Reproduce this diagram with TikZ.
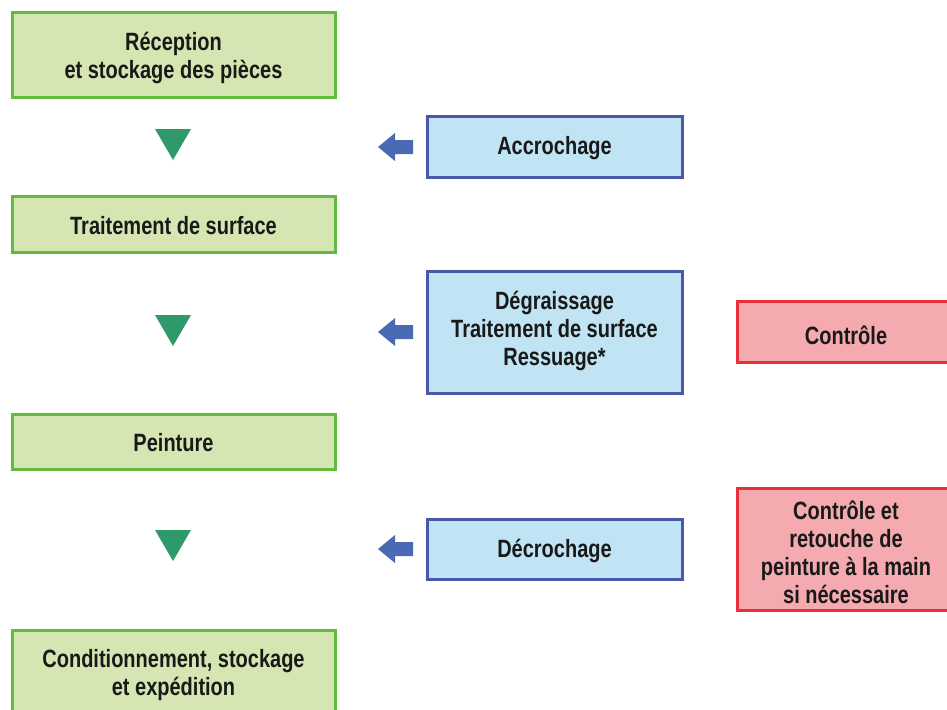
\documentclass[tikz,border=0pt]{standalone}
\usepackage{fontspec}
\setmainfont{Liberation Sans}[FakeStretch=0.8]
\definecolor{gfill}{HTML}{D5E6B3}
\definecolor{gdraw}{HTML}{62BB3E}
\definecolor{bfill}{HTML}{C0E4F4}
\definecolor{bdraw}{HTML}{4A58A8}
\definecolor{rfill}{HTML}{F5AAAF}
\definecolor{rdraw}{HTML}{E8303A}
\definecolor{tri}{HTML}{2E9A6A}
\definecolor{barrow}{HTML}{4A6AB5}
\begin{document}
\begin{tikzpicture}[x=1pt,y=-1pt,
  box/.style={line width=3pt},
  gbox/.style={box, draw=gdraw, fill=gfill},
  bbox/.style={box, draw=bdraw, fill=bfill},
  rbox/.style={box, draw=rdraw, fill=rfill},
  lbl/.style={align=center, inner sep=0pt, text=black!90, font=\bfseries\fontsize{25}{28}\selectfont}]
\useasboundingbox (0,0) rectangle (947,709);
% green boxes
\draw[gbox] (12,13) rectangle (335,97);
\node (g1) at (173.5,58) [lbl] {Réception\\et stockage des pièces};
\draw[gbox] (12,196) rectangle (335,252);
\node (g2) at (173.5,225.5) [lbl] {Traitement de surface};
\draw[gbox] (12,414) rectangle (335,469);
\node (g3) at (173.5,443) [lbl] {Peinture};
\draw[gbox] (12,630) rectangle (335,720);
\node (g4) at (173.5,675) [lbl] {Conditionnement, stockage\\et expédition};
% blue boxes
\draw[bbox] (427,116) rectangle (682,177);
\node (b1) at (554.5,148) [lbl] {Accrochage};
\draw[bbox] (427,271) rectangle (682,393);
\node (b2) at (554.5,330.5) [lbl] {Dégraissage\\Traitement de surface\\Ressuage*};
\draw[bbox] (427,519) rectangle (682,579);
\node (b3) at (554.5,551) [lbl] {Décrochage};
% red boxes
\draw[rbox] (737,301) rectangle (960,362);
\node (r1) at (846,335) [lbl] {Contrôle};
\draw[rbox] (737,488) rectangle (960,610);
\node (r2) at (846,552) [lbl] {Contrôle et\\retouche de\\peinture à la main\\si nécessaire};
% triangles
\foreach \n/\yy in {t1/129, t2/315, t3/530} {
  \fill[tri] (155,\yy) -- (191,\yy) -- (173,\yy+31) -- cycle;
  \coordinate (\n) at (173,\yy);
}
% block arrows
\foreach \n/\yy in {a1/147, a2/332, a3/549} {
  \fill[barrow] (378,\yy) -- (395,\yy-14) -- (395,\yy-7) -- (413,\yy-7) -- (413,\yy+7) -- (395,\yy+7) -- (395,\yy+14) -- cycle;
  \coordinate (\n) at (378,\yy);
}
\end{tikzpicture}
\end{document}
